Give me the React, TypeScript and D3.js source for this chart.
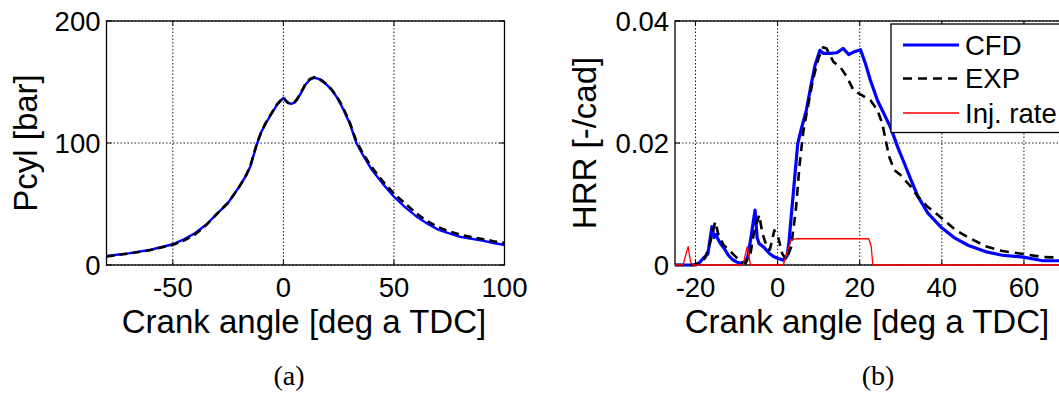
import * as d3 from 'd3';

// Panel (a): cylinder pressure
const caP = [-80, -70, -60, -50, -45, -40, -35, -30, -25, -20, -17, -15, -12, -10, -8, -5, -3, -1, 0, 1, 2, 3.5, 5, 6, 8, 10, 12, 14, 16, 18, 20, 22, 24, 26, 28, 30, 33, 36, 40, 45, 50, 55, 60, 65, 70, 75, 80, 85, 90, 95, 100];
const pCfd = [7.4, 9.5, 12.5, 17, 21, 26, 33, 42, 51, 64, 73, 80.5, 99, 109, 116, 125, 131, 135, 137, 134.5, 133, 132, 133, 135, 141, 148, 152, 153.5, 152.5, 150, 147, 143, 138, 131.5, 124, 116, 100, 90, 78, 66.5, 56, 47.5, 40, 34, 29, 26, 23, 21.5, 20, 18, 16.4];
const pExp = [7, 9.3, 12.3, 16.5, 20, 25, 32.5, 42, 51, 64, 73, 81, 99.5, 109, 116.5, 125.5, 131.5, 135.5, 138, 135, 133, 132, 133.5, 135.5, 141.5, 148.5, 152.5, 154, 153, 150.5, 147.5, 143.5, 138.5, 132.5, 125, 117, 101.5, 91.5, 80, 68.5, 58.5, 50.5, 42.5, 36, 31, 27.5, 24.8, 23, 21.3, 19.5, 18];

// Panel (b): heat release rate
const caCfd = [-25, -20, -19, -18, -17, -16.5, -16, -15.5, -15, -14.5, -14, -13, -12, -11, -10, -9, -8, -7.3, -6.5, -6, -5.5, -5, -4.5, -3.5, -2, -1, 0, 1.4, 2.3, 2.8, 3.3, 4.1, 4.9, 5.8, 7, 8.2, 9.1, 10.3, 11.1, 12.8, 14.4, 16, 17.3, 18.5, 20.2, 21.4, 22.6, 24.3, 25.9, 27.6, 29.2, 30.9, 32.5, 34.2, 36.6, 39.8, 43.2, 46.5, 50.6, 54.7, 59.9, 64.6, 70];
const hrrCfd = [0, 0, 0.0004, 0.0012, 0.0018, 0.004, 0.0063, 0.0045, 0.005, 0.0042, 0.0036, 0.0027, 0.0016, 0.0009, 0.0005, 0.0003, 0.0005, 0.0012, 0.0045, 0.0068, 0.009, 0.0045, 0.0035, 0.003, 0.0019, 0.0014, 0.0011, 0.0008, 0.0015, 0.004, 0.0079, 0.0139, 0.0199, 0.0224, 0.0254, 0.0297, 0.0327, 0.0352, 0.0347, 0.0347, 0.0348, 0.0355, 0.0345, 0.0349, 0.0353, 0.033, 0.0303, 0.027, 0.0248, 0.0224, 0.0194, 0.0166, 0.0139, 0.0112, 0.0085, 0.0062, 0.0044, 0.0032, 0.0022, 0.0016, 0.0013, 0.0007, 0.0007];
const caExp = [-25, -20.5, -19.3, -17.7, -16.5, -15.2, -14.4, -13.2, -11.9, -10.3, -9.1, -7.8, -6.6, -5.8, -4.5, -3.7, -2.5, -1.9, -0.8, 0, 1.1, 2.1, 3.3, 4.5, 5.3, 6.2, 7.2, 8.6, 9.9, 11.1, 11.9, 13.6, 15.2, 16.9, 18.5, 20.6, 22.6, 24.3, 25.5, 26.3, 27.2, 28.4, 30, 32.5, 34.2, 36.6, 39.8, 43.2, 46.5, 50.6, 54.7, 59.9, 64.6, 70];
const hrrExp = [0, 0, 0.0003, 0.0011, 0.0035, 0.0071, 0.0049, 0.0033, 0.0025, 0.0014, 0.0005, 0.0003, 0.0019, 0.0052, 0.0082, 0.0052, 0.0027, 0.0025, 0.0057, 0.0049, 0.0019, 0.0008, 0.003, 0.0095, 0.0161, 0.0216, 0.0254, 0.0303, 0.0338, 0.0357, 0.0355, 0.0333, 0.0325, 0.0308, 0.0286, 0.0278, 0.027, 0.0254, 0.0232, 0.0205, 0.0177, 0.0156, 0.0147, 0.0128, 0.0112, 0.0095, 0.0078, 0.0058, 0.0045, 0.0031, 0.0023, 0.0018, 0.0013, 0.0012];
const caInj = [-25, -23, -22.5, -21.8, -21.2, -20.7, -8.4, -7.8, -7.4, -7, -6.6, 1.4, 2.2, 3.3, 4.5, 10, 15, 20, 22.2, 22.8, 23.2, 70];
const injRate = [0, 0, 0.0014, 0.003, 0.0005, 0, 0, 0.0019, 0.003, 0.0014, 0, 0, 0.0019, 0.0041, 0.0043, 0.0043, 0.0043, 0.0043, 0.0043, 0.003, 0, 0];

const ticksA = [-50, 0, 50, 100];
const yTicksA = [0, 100, 200];
const ticksB = [-20, 0, 20, 40, 60];
const yTicksB = [0, 0.02, 0.04];

const legendItems = ['CFD', 'EXP', 'Inj. rate'];

const SANS = '"Liberation Sans", Arial, sans-serif';
const SERIF = '"Liberation Serif", "Times New Roman", serif';

type Series = { xs: number[]; ys: number[]; color: string; width: number; dash?: string };

function Panel({ id, xDomain, yDomain, xRange, yRange, xTicks, yTicks, yFmt, yLabel, yLabelX, xLabelX, tag, tagX, series }: {
  id: string; xDomain: [number, number]; yDomain: [number, number]; xRange: [number, number]; yRange: [number, number];
  xTicks: number[]; yTicks: number[]; yFmt: (v: number) => string; yLabel: string; yLabelX: number; xLabelX: number;
  tag: string; tagX: number; series: Series[];
}) {
  const x = d3.scaleLinear().domain(xDomain).range(xRange);
  const y = d3.scaleLinear().domain(yDomain).range(yRange);
  const [x0, x1] = xRange;
  const [yb, yt] = yRange;
  const tk = 5;

  return (
    <g>
      <defs>
        <clipPath id={id}>
          <rect x={x0} y={yt - 2} width={x1 - x0} height={yb - yt + 4} />
        </clipPath>
      </defs>
      {/* grid */}
      {xTicks.map((t) => (
        <line key={'gx' + t} x1={x(t)} x2={x(t)} y1={yt} y2={yb} stroke="#000" strokeWidth={0.9} strokeDasharray="1.5,2" />
      ))}
      {yTicks.map((t) => (
        <line key={'gy' + t} x1={x0} x2={x1} y1={y(t)} y2={y(t)} stroke="#000" strokeWidth={0.9} strokeDasharray="1.5,2" />
      ))}
      {/* box + ticks */}
      <rect x={x0} y={yt} width={x1 - x0} height={yb - yt} fill="none" stroke="#000" strokeWidth={1.3} />
      {xTicks.map((t) => (
        <g key={'tx' + t}>
          <line x1={x(t)} x2={x(t)} y1={yb} y2={yb - tk} stroke="#000" />
          <line x1={x(t)} x2={x(t)} y1={yt} y2={yt + tk} stroke="#000" />
          <text x={x(t)} y={297} textAnchor="middle" fontFamily={SANS} fontSize={27.5}>{t}</text>
        </g>
      ))}
      {yTicks.map((t) => (
        <g key={'ty' + t}>
          <line x1={x0} x2={x0 + tk} y1={y(t)} y2={y(t)} stroke="#000" />
          <line x1={x1} x2={x1 - tk} y1={y(t)} y2={y(t)} stroke="#000" />
          <text x={x0 - 6} y={y(t)} dy="0.36em" textAnchor="end" fontFamily={SANS} fontSize={27.5}>{yFmt(t)}</text>
        </g>
      ))}
      {/* curves */}
      <g clipPath={`url(#${id})`}>
        {series.map((s, i) => {
          const pts = s.xs.map((v, j) => [v, s.ys[j]] as [number, number]);
          const line = d3.line<[number, number]>().x((d) => x(d[0])).y((d) => y(d[1]));
          return (
            <path key={i} d={line(pts) || ''} fill="none" stroke={s.color} strokeWidth={s.width}
              strokeDasharray={s.dash} strokeLinejoin="round" />
          );
        })}
      </g>
      <text x={xLabelX} y={333} textAnchor="middle" fontFamily={SANS} fontSize={33}>Crank angle [deg a TDC]</text>
      <text transform={`translate(${yLabelX},${(yt + yb) / 2}) rotate(-90)`} textAnchor="middle" fontFamily={SANS} fontSize={33}>{yLabel}</text>
      <text x={tagX} y={385} textAnchor="middle" fontFamily={SERIF} fontSize={28}>{tag}</text>
    </g>
  );
}

export default function App() {
  const legendStyles = [
    { color: '#0000ff', width: 3, dash: undefined },
    { color: '#000', width: 2.5, dash: '9,6' },
    { color: '#ff0000', width: 1.3, dash: undefined },
  ];
  const legendRows = [45, 78.5, 113];

  return (
    <svg width={1059} height={396} style={{ position: 'absolute', left: 0, top: 0, background: '#fff' }}>
      <Panel
        id="clipA" xDomain={[-80, 100]} yDomain={[0, 200]} xRange={[106.5, 504.5]} yRange={[265, 21]}
        xTicks={ticksA} yTicks={yTicksA} yFmt={(v) => String(v)} yLabel="Pcyl [bar]" yLabelX={37}
        xLabelX={304} tag="(a)" tagX={289}
        series={[
          { xs: caP, ys: pCfd, color: '#0000ff', width: 2.4 },
          { xs: caP, ys: pExp, color: '#000', width: 2.6, dash: '8,5' },
        ]}
      />
      <Panel
        id="clipB" xDomain={[-25, 70]} yDomain={[0, 0.04]} xRange={[675, 1065]} yRange={[265, 21]}
        xTicks={ticksB} yTicks={yTicksB} yFmt={(v) => (v === 0 ? '0' : d3.format('.2f')(v))} yLabel="HRR [-/cad]" yLabelX={596}
        xLabelX={867} tag="(b)" tagX={878}
        series={[
          { xs: caCfd, ys: hrrCfd, color: '#0000ff', width: 3.2 },
          { xs: caExp, ys: hrrExp, color: '#000', width: 2.6, dash: '9,6' },
          { xs: caInj, ys: injRate, color: '#ff0000', width: 1.3 },
        ]}
      />
      {/* legend */}
      <g>
        <rect x={891} y={24} width={180} height={108.5} fill="#fff" stroke="#000" strokeWidth={1.3} />
        {legendItems.map((name, i) => (
          <g key={name}>
            <line x1={903} x2={959} y1={legendRows[i]} y2={legendRows[i]} stroke={legendStyles[i].color}
              strokeWidth={legendStyles[i].width} strokeDasharray={legendStyles[i].dash} />
            <text x={965} y={legendRows[i]} dy="0.36em" fontFamily={SANS} fontSize={27.5}>{name}</text>
          </g>
        ))}
      </g>
    </svg>
  );
}
